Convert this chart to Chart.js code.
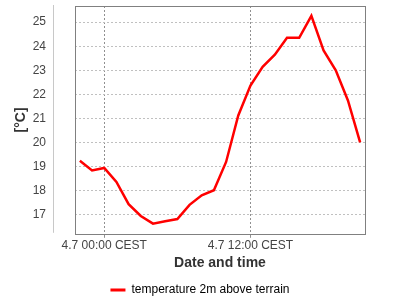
<!DOCTYPE html>
<html>
<head>
<meta charset="utf-8">
<script src="https://cdn.jsdelivr.net/npm/chart.js@4/dist/chart.umd.min.js"></script>
<style>
  html, body { margin: 0; padding: 0; background: #fff; }
  #wrap { width: 400px; height: 300px; }
</style>
</head>
<body>
<div id="wrap"><canvas id="c" width="400" height="300"></canvas></div>
<script>
// hours relative to 4.7 00:00 CEST
const hours = [-2, -1, 0, 1, 2, 3, 4, 5, 6, 7, 8, 9, 10, 11, 12, 13, 14, 15, 16, 17, 18, 19, 20, 21];
const temperature = [19.25, 18.85, 18.95, 18.37, 17.45, 16.96, 16.64, 16.74, 16.83, 17.42, 17.82, 18.03,
                     19.2, 21.13, 22.37, 23.15, 23.65, 24.35, 24.35, 25.26, 23.83, 23.0, 21.75, 20.01];
const xTickValues = [0, 12];
const xTickLabels = ['4.7 00:00 CEST', '4.7 12:00 CEST'];
const yTickValues = [17, 18, 19, 20, 21, 22, 23, 24, 25];

const FONT = 'Arial, "Liberation Sans", sans-serif';

// frame round the plot + detached y axis line
const framePlugin = {
    id: 'frame',
    afterLayout(chart) {
        // legend centred on the whole canvas, a bit lower
        const lg = chart.legend;
        lg.left = 0;
        lg.right = chart.width;
        lg.width = chart.width;
        lg.top += 6;
        lg.bottom += 6;
    },
    afterDraw(chart) {
        const { ctx, chartArea: a } = chart;
        ctx.save();
        ctx.strokeStyle = '#808080';
        ctx.lineWidth = 1;
        ctx.strokeRect(Math.round(a.left) + 0.5, Math.round(a.top) + 0.5,
                       Math.round(a.right - a.left), Math.round(a.bottom - a.top));
        const x = Math.round(a.left) - 22 + 0.5;
        ctx.strokeStyle = '#c8c8c8';
        ctx.beginPath();
        ctx.moveTo(x, a.top - 1);
        ctx.lineTo(x, a.bottom - 1);
        ctx.stroke();
        ctx.restore();
    }
};

new Chart(document.getElementById('c'), {
    type: 'line',
    data: {
        datasets: [{
            label: 'temperature 2m above terrain',
            data: hours.map((h, i) => ({ x: h, y: temperature[i] })),
            borderColor: '#ff0000',
            backgroundColor: '#ff0000',
            borderWidth: 2.5,
            pointRadius: 0,
            tension: 0
        }]
    },
    options: {
        responsive: false,
        animation: false,
        layout: { padding: { top: 6, right: 35, left: 6, bottom: 0 } },
        scales: {
            x: {
                type: 'linear',
                min: -2.4,
                max: 21.4,
                afterBuildTicks: (s) => { s.ticks = xTickValues.map(v => ({ value: v })); },
                ticks: {
                    callback: (v) => xTickLabels[xTickValues.indexOf(v)],
                    color: '#444',
                    font: { family: FONT, size: 12 },
                    maxRotation: 0,
                    padding: 1
                },
                grid: {
                    color: '#909090',
                    tickLength: 4,
                    drawTicks: true
                },
                border: { display: false, dash: [2, 2] },
                title: {
                    display: true,
                    text: 'Date and time',
                    color: '#333',
                    font: { family: FONT, size: 14, weight: 'bold' },
                    padding: { top: 1, bottom: 2 }
                }
            },
            y: {
                min: 16.22,
                max: 25.67,
                afterBuildTicks: (s) => { s.ticks = yTickValues.map(v => ({ value: v })); },
                ticks: {
                    color: '#444',
                    font: { family: FONT, size: 12 },
                    padding: 29
                },
                grid: {
                    color: '#c0c0c0',
                    drawTicks: false
                },
                border: { display: false, dash: [2, 2] },
                title: {
                    display: true,
                    text: '[°C]',
                    color: '#333',
                    font: { family: FONT, size: 14, weight: 'bold' },
                    padding: { top: 7, bottom: 0 }
                },
                afterFit: (s) => {
                    s.width = 69;
                    s.paddingTop = 0;
                    s.paddingBottom = 0;
                }
            }
        },
        plugins: {
            legend: {
                position: 'bottom',
                labels: {
                    color: '#333',
                    font: { family: FONT, size: 12 },
                    boxWidth: 15,
                    boxHeight: 0,
                    padding: 4,
                    generateLabels: (chart) => [{
                        text: chart.data.datasets[0].label,
                        strokeStyle: '#ff0000',
                        fillStyle: '#ff0000',
                        lineWidth: 3,
                        datasetIndex: 0
                    }]
                }
            },
            tooltip: { enabled: false }
        }
    },
    plugins: [framePlugin]
});
</script>
</body>
</html>
